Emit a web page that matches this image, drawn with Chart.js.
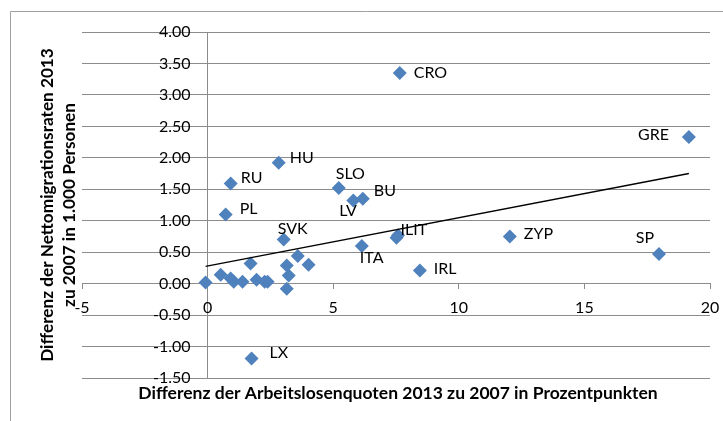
<!DOCTYPE html>
<html>
<head>
<meta charset="utf-8">
<script src="https://cdn.jsdelivr.net/npm/chart.js@4.4.1/dist/chart.umd.min.js"></script>
<style>
  html, body { margin: 0; padding: 0; background: #fff; }
  #wrap { position: relative; width: 723px; height: 421px; }
</style>
</head>
<body>
<div id="wrap"><canvas id="chart" width="723" height="421"></canvas></div>
<script>
// Länderkürzel ('' = Punkt ohne Beschriftung)
const countries = [
  'CRO', 'GRE', 'HU', 'RU', 'PL', 'SLO', 'LV', 'BU', 'ILIT', '', 'ITA', 'ZYP', 'SP', 'IRL', 'LX', 'SVK',
  '', '', '', '', '', '', '', '', '', '', '', '', '', ''
];
// Differenz der Arbeitslosenquoten 2013 zu 2007 (Prozentpunkte)
const unemploymentDiff = [
  7.65, 19.16, 2.83, 0.92, 0.72, 5.22, 5.80, 6.18, 7.52, 7.58, 6.14, 12.03, 17.97, 8.45, 1.75, 3.03,
  -0.08, 0.52, 0.92, 1.04, 1.39, 1.71, 1.95, 2.27, 2.39, 3.15, 3.23, 3.15, 3.59, 4.02
];
// Differenz der Nettomigrationsraten 2013 zu 2007 (je 1.000 Personen)
const migrationDiff = [
  3.35, 2.33, 1.92, 1.59, 1.10, 1.52, 1.32, 1.35, 0.73, 0.77, 0.60, 0.75, 0.47, 0.21, -1.19, 0.70,
  0.02, 0.14, 0.08, 0.03, 0.03, 0.32, 0.06, 0.03, 0.03, 0.29, 0.13, -0.08, 0.44, 0.30
];
const xTicks = [-5, 0, 5, 10, 15, 20];
const yTicks = [-1.5, -1.0, -0.5, 0, 0.5, 1.0, 1.5, 2.0, 2.5, 3.0, 3.5, 4.0];

const xTitle = 'Differenz der Arbeitslosenquoten 2013 zu 2007 in Prozentpunkten';
const yTitle = ['Differenz der Nettomigrationsraten 2013', 'zu 2007 in 1.000 Personen'];

const GRID = '#8c8c8c';
const BLUE = '#4F81BD';
const FONT = 'Lato, "Open Sans", sans-serif';

// lineare Trendlinie (kleinste Quadrate), wie in Excel
function linearTrend(xs, ys) {
  const n = xs.length;
  const mx = xs.reduce((a, b) => a + b, 0) / n;
  const my = ys.reduce((a, b) => a + b, 0) / n;
  let sxy = 0, sxx = 0;
  xs.forEach((x, i) => { sxy += (x - mx) * (ys[i] - my); sxx += (x - mx) * (x - mx); });
  const slope = sxy / sxx;
  const icpt = my - slope * mx;
  const x0 = Math.min(...xs), x1 = Math.max(...xs);
  return [{ x: x0, y: icpt + slope * x0 }, { x: x1, y: icpt + slope * x1 }];
}

const points = unemploymentDiff.map((x, i) => ({ x, y: migrationDiff[i] }));

// Beschriftungs-Versatz je Land: [dx, dy, Ausrichtung]
const LABEL_POS = {
  CRO: [14, 0, 'left'], GRE: [-20, -2, 'right'], HU: [11, -5, 'left'], RU: [10, -6, 'left'],
  PL: [14, -6, 'left'], SLO: [-3, -14, 'left'], BU: [11, -8, 'left'], LV: [-14, 10, 'left'],
  ILIT: [4, -8, 'left'], ITA: [-2, 12, 'left'], ZYP: [14, -3, 'left'], SP: [-5, -16, 'right'],
  IRL: [14, -2, 'left'], LX: [18, -6, 'left'], SVK: [-6, -11, 'left']
};

const pointLabels = {
  id: 'pointLabels',
  afterDatasetsDraw(chart) {
    const meta = chart.getDatasetMeta(1);
    const ctx = chart.ctx;
    ctx.save();
    ctx.font = '16px ' + FONT;
    ctx.fillStyle = '#000';
    ctx.textBaseline = 'middle';
    meta.data.forEach((pt, i) => {
      const name = countries[i];
      if (!name) return;
      const [dx, dy, align] = LABEL_POS[name] || [12, 0, 'left'];
      ctx.textAlign = align;
      ctx.fillText(name, pt.x + dx, pt.y + dy);
    });
    ctx.restore();
  }
};

// Schriftgröße so wählen, dass der Text die Zielbreite hat
function fitFont(ctx, text, width) {
  ctx.font = 'bold 20px ' + FONT;
  const size = 20 * width / ctx.measureText(text).width;
  return 'bold ' + size.toFixed(1) + 'px ' + FONT;
}

// Rahmen + Achsentitel
const frameAndTitles = {
  id: 'frameAndTitles',
  afterDraw(chart) {
    const ctx = chart.ctx;
    ctx.save();
    ctx.strokeStyle = '#a0a0a0';
    ctx.lineWidth = 1;
    ctx.beginPath();
    ctx.moveTo(10.5, 421);
    ctx.lineTo(10.5, 11.5);
    ctx.lineTo(723, 11.5);
    ctx.stroke();

    ctx.fillStyle = '#000';
    ctx.textAlign = 'center';
    ctx.textBaseline = 'middle';
    ctx.font = fitFont(ctx, xTitle, 520);
    ctx.fillText(xTitle, 398, 393);

    const cy = (chart.chartArea.top + chart.chartArea.bottom) / 2;
    ctx.font = fitFont(ctx, yTitle[0], 314);
    ctx.translate(47, cy);
    ctx.rotate(-Math.PI / 2);
    ctx.fillText(yTitle[0], 0, 0);
    ctx.fillText(yTitle[1], 0, 22);
    ctx.restore();
  }
};

function noPadding(s) {
  s.paddingLeft = s.paddingRight = s.paddingTop = s.paddingBottom = 0;
}

new Chart(document.getElementById('chart'), {
  type: 'scatter',
  data: {
    datasets: [
      {
        type: 'line',
        label: 'Trend',
        data: linearTrend(unemploymentDiff, migrationDiff),
        borderColor: '#000',
        borderWidth: 1.3,
        pointRadius: 0,
        fill: false,
        order: 0
      },
      {
        label: 'Länder',
        data: points,
        pointStyle: 'rectRot',
        pointRadius: 7,
        backgroundColor: BLUE,
        borderWidth: 0,
        order: 1
      }
    ]
  },
  options: {
    responsive: false,
    animation: false,
    layout: { autoPadding: false, padding: { left: 82, right: 13, top: 32, bottom: 43 } },
    plugins: { legend: { display: false }, tooltip: { enabled: false } },
    scales: {
      x: {
        type: 'linear',
        position: { y: 0 },
        min: -5,
        max: 20,
        afterBuildTicks: s => { s.ticks = xTicks.map(v => ({ value: v })); },
        afterFit: s => { noPadding(s); s.height = 0; },
        ticks: { color: '#000', font: { family: FONT, size: 16 }, padding: 10, maxRotation: 0 },
        grid: {
          drawOnChartArea: true,
          color: c => (c.tick && c.tick.value === 0 ? GRID : 'rgba(0,0,0,0)'),
          tickColor: GRID,
          tickLength: 5
        },
        border: { display: true, color: GRID }
      },
      y: {
        type: 'linear',
        position: 'left',
        min: -1.5,
        max: 4,
        afterBuildTicks: s => { s.ticks = yTicks.map(v => ({ value: v })); },
        afterFit: s => { noPadding(s); s.width = 0; },
        ticks: {
          mirror: true,
          crossAlign: 'far',
          padding: 71,
          color: '#000',
          font: { family: FONT, size: 16 },
          callback: v => v.toFixed(2)
        },
        grid: { color: GRID, drawTicks: false },
        border: { display: false }
      }
    }
  },
  plugins: [pointLabels, frameAndTitles]
});
</script>
</body>
</html>
